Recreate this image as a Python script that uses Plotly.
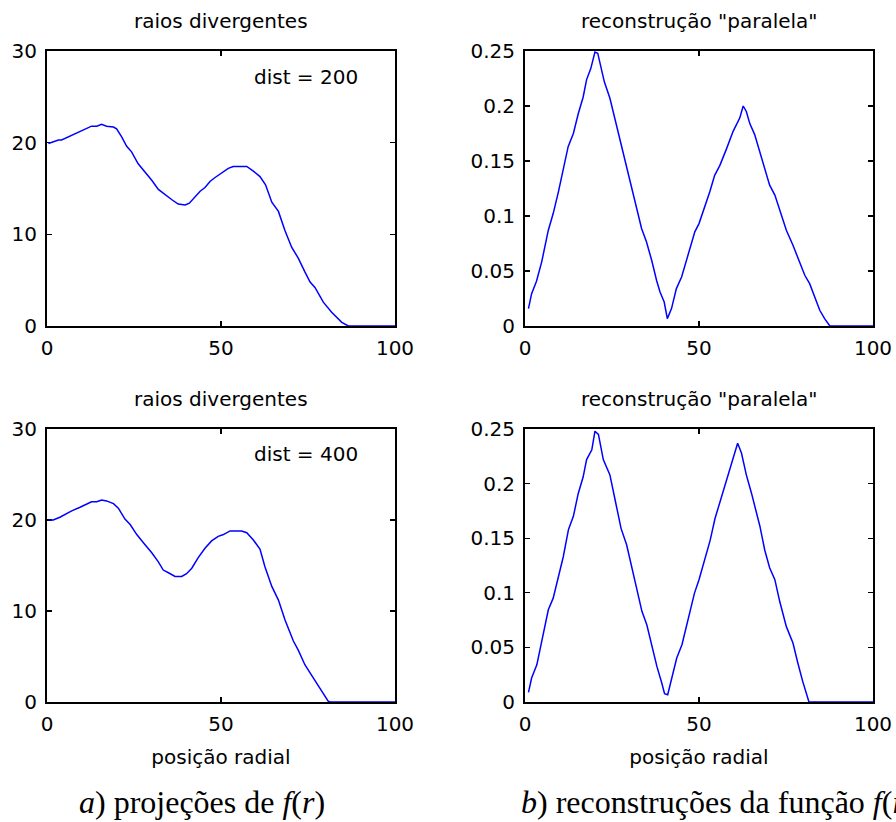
import plotly.graph_objects as go

# ---------------- data ----------------
# a) projections, dist = 200
x_a1 = [0.4, 3.3, 4.2, 7.1, 9.5, 12.8, 14.3, 15.7, 17.1, 19.1, 20.0, 21.5, 22.9, 24.3, 26.2,
        28.2, 30.1, 32.0, 33.9, 35.8, 37.7, 39.7, 40.9, 42.1, 44.0, 45.4, 46.9, 48.3, 50.2,
        52.1, 53.5, 57.4, 59.3, 61.2, 62.8, 64.6, 66.5, 68.4, 70.3, 72.2, 74.1, 75.6, 77.0,
        79.4, 81.8, 84.7, 86.6, 90.0, 95.0, 100.0]
y_a1 = [19.9, 20.3, 20.3, 20.8, 21.2, 21.8, 21.8, 22.0, 21.8, 21.7, 21.5, 20.6, 19.6, 19.0, 17.7,
        16.8, 15.9, 14.9, 14.3, 13.8, 13.3, 13.2, 13.4, 13.9, 14.7, 15.1, 15.8, 16.2, 16.7,
        17.2, 17.4, 17.4, 16.9, 16.3, 15.4, 13.5, 12.5, 10.4, 8.6, 7.4, 5.9, 4.8, 4.2,
        2.6, 1.5, 0.4, 0.0, 0.0, 0.0, 0.0]

# a) projections, dist = 400
x_a2 = [0.4, 1.8, 3.7, 7.1, 9.5, 12.8, 14.3, 15.7, 17.1, 19.1, 20.5, 22.4, 23.9, 25.8, 27.7,
        30.1, 32.0, 33.4, 34.9, 36.8, 38.7, 40.1, 41.6, 43.5, 45.4, 47.3, 49.2, 50.7, 52.6,
        55.9, 57.4, 59.3, 61.2, 62.6, 64.6, 66.5, 68.4, 70.8, 72.2, 74.1, 76.1, 77.5, 79.4,
        80.8, 81.3, 90.0, 100.0]
y_a2 = [20.0, 20.0, 20.3, 21.0, 21.4, 22.0, 22.0, 22.2, 22.1, 21.8, 21.3, 20.1, 19.5, 18.4, 17.5,
        16.4, 15.4, 14.5, 14.2, 13.8, 13.8, 14.1, 14.7, 15.9, 16.9, 17.7, 18.2, 18.4, 18.8,
        18.8, 18.6, 17.8, 16.8, 14.9, 12.7, 11.2, 9.0, 6.7, 5.7, 4.1, 2.9, 2.1, 1.0,
        0.1, 0.0, 0.0, 0.0]

# b) reconstructions, dist = 200
x_b1 = [1.0, 1.9, 3.3, 4.8, 6.7, 8.1, 9.6, 11.0, 12.4, 13.9, 15.3, 16.7, 17.7, 18.9, 20.1,
        20.9, 21.5, 22.8, 24.4, 25.8, 27.3, 28.7, 30.1, 32.1, 33.5, 34.9, 36.4, 37.8, 38.8,
        40.0, 40.9, 42.1, 43.5, 45.0, 46.9, 48.8, 50.0, 51.7, 53.1, 54.5, 56.0, 57.9, 59.8,
        61.7, 62.7, 63.6, 64.6, 66.0, 67.5, 68.9, 70.3, 71.8, 73.2, 75.1, 77.0, 78.9, 80.4,
        81.8, 83.3, 84.7, 86.1, 87.6, 92.0, 100.0]
y_b1 = [0.0158, 0.0294, 0.0407, 0.0583, 0.0871, 0.1022, 0.122, 0.143, 0.163, 0.175, 0.193,
        0.208, 0.224, 0.234, 0.249, 0.248, 0.240, 0.222, 0.207, 0.189, 0.169, 0.149, 0.131,
        0.108, 0.0886, 0.0765, 0.0598, 0.0416, 0.0309, 0.0218, 0.0067, 0.0158, 0.034, 0.0446,
        0.0658, 0.0856, 0.0931, 0.1083, 0.122, 0.137, 0.146, 0.161, 0.177, 0.189, 0.200,
        0.195, 0.184, 0.174, 0.158, 0.143, 0.128, 0.119, 0.105, 0.0871, 0.0734, 0.0583,
        0.0461, 0.0385, 0.0264, 0.0143, 0.0067, 0.0, 0.0, 0.0]

# b) reconstructions, dist = 400
x_b2 = [1.0, 1.9, 3.4, 4.8, 6.7, 8.1, 9.6, 11.0, 12.5, 13.9, 15.3, 16.7, 17.7, 19.2, 20.1,
        21.1, 22.5, 24.4, 25.9, 27.6, 29.2, 30.7, 32.1, 33.6, 35.0, 36.5, 37.9, 39.3, 40.1,
        41.0, 42.2, 43.6, 45.1, 46.9, 48.7, 50.0, 51.7, 53.2, 54.6, 56.5, 58.2, 59.8, 61.1,
        62.2, 63.6, 65.1, 66.0, 67.5, 68.9, 70.3, 71.8, 73.2, 75.1, 77.0, 78.4, 79.8, 81.6,
        90.0, 100.0]
y_b2 = [0.0088, 0.022, 0.034, 0.0555, 0.0845, 0.0951, 0.115, 0.133, 0.158, 0.170, 0.191,
        0.206, 0.222, 0.231, 0.248, 0.245, 0.222, 0.208, 0.185, 0.159, 0.144, 0.124, 0.104,
        0.083, 0.0707, 0.0509, 0.0326, 0.0174, 0.0076, 0.0067, 0.022, 0.0402, 0.0524, 0.0753,
        0.0997, 0.112, 0.132, 0.148, 0.168, 0.188, 0.206, 0.225, 0.237, 0.228, 0.208, 0.191,
        0.180, 0.161, 0.139, 0.123, 0.112, 0.092, 0.069, 0.054, 0.0357, 0.0189, 0.0, 0.0, 0.0]

x_ticks = [0, 50, 100]
y_ticks_a = [0, 10, 20, 30]
y_ticks_b = [0, 0.05, 0.1, 0.15, 0.2, 0.25]
y_ticktext_b = ["0", "0.05", "0.1", "0.15", "0.2", "0.25"]

title_a = "raios divergentes"
title_b = 'reconstrução "paralela"'
xlabel = "posição radial"
dist_labels = ["dist = 200", "dist = 400"]
caption_a = "<i>a</i>) projeções de <i>f</i>(<i>r</i>)"
caption_b = "<i>b</i>) reconstruções da função <i>f</i>(<i>r</i>)"

# ---------------- layout geometry (page pixels) ----------------
W, H = 896, 822
SANS = "DejaVu Sans"
FS = 20

def px_x(p):
    return p / W

def px_y(p):
    return 1 - p / H

cols = [(47, 395), (525, 873)]
rows = [(51, 326), (429, 702)]

fig = go.Figure()
blue = dict(color="#0000ff", width=1.5)
series = [(x_a1, y_a1, 1), (x_b1, y_b1, 2), (x_a2, y_a2, 3), (x_b2, y_b2, 4)]
for xs, ys, k in series:
    fig.add_trace(go.Scatter(x=xs, y=ys, mode="lines", line=blue,
                             xaxis="x" if k == 1 else f"x{k}",
                             yaxis="y" if k == 1 else f"y{k}",
                             showlegend=False, hoverinfo="skip"))

axis_common = dict(showline=True, linecolor="black", linewidth=2, mirror="ticks",
                   ticks="inside", ticklen=5, tickwidth=1.2, tickcolor="black",
                   showgrid=False, zeroline=False, layer="below traces", automargin=False,
                   tickfont=dict(family=SANS, size=FS, color="black"), fixedrange=True)

layout = {}
for k in range(1, 5):
    r = 0 if k <= 2 else 1
    c = (k - 1) % 2
    xname = "xaxis" if k == 1 else f"xaxis{k}"
    yname = "yaxis" if k == 1 else f"yaxis{k}"
    xa = dict(axis_common)
    xa.update(domain=[px_x(cols[c][0]), px_x(cols[c][1])], range=[0, 100],
              tickvals=x_ticks, anchor="y" if k == 1 else f"y{k}", ticklabelstandoff=3)
    if r == 1:
        xa.update(title=dict(text=xlabel, font=dict(family=SANS, size=FS, color="black"),
                             standoff=15))
    ya = dict(axis_common)
    if c == 0:
        ya.update(range=[0, 30], tickvals=y_ticks_a)
    else:
        ya.update(range=[0, 0.25], tickvals=y_ticks_b, ticktext=y_ticktext_b)
    ya.update(domain=[px_y(rows[r][1]), px_y(rows[r][0])],
              anchor="x" if k == 1 else f"x{k}", ticklabelstandoff=4)
    layout[xname] = xa
    layout[yname] = ya

annotations = []
for r in range(2):
    for c in range(2):
        cx = (cols[c][0] + cols[c][1]) / 2
        annotations.append(dict(text=title_a if c == 0 else title_b, xref="paper", yref="paper",
                                x=px_x(cx), y=px_y(rows[r][0] - 30), xanchor="center",
                                yanchor="middle", showarrow=False,
                                font=dict(family=SANS, size=FS, color="black")))
for r in range(2):
    annotations.append(dict(text=dist_labels[r], xref="x" if r == 0 else "x3",
                            yref="y" if r == 0 else "y3", x=59, y=27.2, xanchor="left",
                            yanchor="middle", showarrow=False,
                            font=dict(family=SANS, size=FS, color="black")))
annotations.append(dict(text=caption_a, xref="paper", yref="paper", x=px_x(202), y=px_y(802),
                        xanchor="center", yanchor="middle", showarrow=False,
                        font=dict(family="Liberation Serif", size=32, color="black")))
annotations.append(dict(text=caption_b, xref="paper", yref="paper", x=px_x(519), y=px_y(802),
                        xanchor="left", yanchor="middle", showarrow=False,
                        font=dict(family="Liberation Serif", size=32, color="black")))

fig.update_layout(template="none", width=W, height=H, margin=dict(l=0, r=0, t=0, b=0),
                  paper_bgcolor="white", plot_bgcolor="white",
                  annotations=annotations, **layout)

# remove the default page margin so the 896x822 figure fills the window exactly
fig.write_html("out.html",
               config={"displayModeBar": False, "staticPlot": True},
               post_script="document.body.style.margin='0';"
                           "document.body.style.overflow='hidden';")
